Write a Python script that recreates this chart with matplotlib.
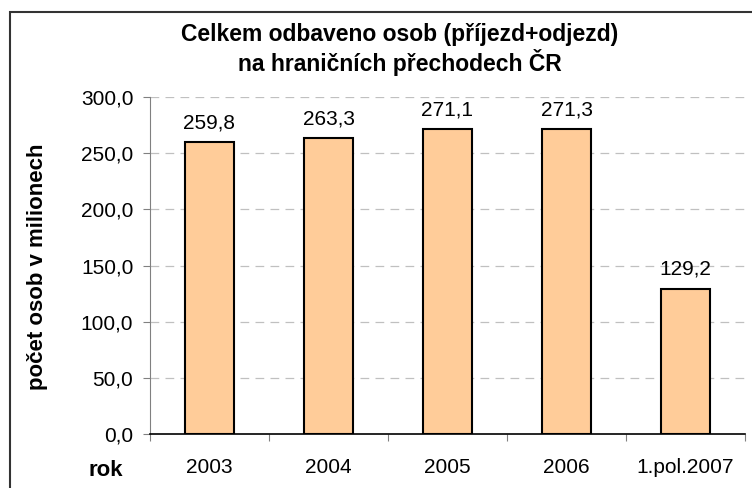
import matplotlib.pyplot as plt
from matplotlib.patches import Rectangle

# Data
categories = ['2003', '2004', '2005', '2006', '1.pol.2007']
values = [259.8, 263.3, 271.1, 271.3, 129.2]
y_ticks = [0, 50, 100, 150, 200, 250, 300]

plt.rcParams['font.family'] = ['Liberation Sans', 'DejaVu Sans']

fig = plt.figure(figsize=(7.52, 4.88), dpi=100)
ax = fig.add_axes([150 / 752, 1 - 434 / 488, 595 / 752, 337 / 488])

x = range(len(categories))
ax.bar(x, values, width=0.41, color='#ffcc99', edgecolor='black', linewidth=1.5, zorder=3)

for xi, v in zip(x, values):
    ax.annotate(f'{v:.1f}'.replace('.', ','), (xi, v), xytext=(0, 14), textcoords='offset points',
                ha='center', va='center', fontsize=15)

ax.set_xlim(-0.5, len(categories) - 0.5)
ax.set_ylim(0, 300)
ax.set_yticks(y_ticks)
ax.set_yticklabels([f'{t:.1f}'.replace('.', ',') for t in y_ticks], fontsize=15)
for t in y_ticks[1:]:
    ax.axhline(t, color='#c0c0c0', linestyle=(0, (7, 5)), linewidth=0.9, zorder=1)

# category labels between boundary tick marks
ax.set_xticks([i - 0.5 for i in range(len(categories) + 1)])
ax.set_xticklabels([])
ax.set_xticks(list(x), minor=True)
ax.set_xticklabels(categories, minor=True, fontsize=15)
ax.tick_params(axis='x', which='minor', length=0, pad=17)
ax.tick_params(axis='x', which='major', length=5, color='#808080', direction='out')
ax.tick_params(axis='y', length=5, color='#808080', pad=7)

for s in ['top', 'right']:
    ax.spines[s].set_visible(False)
ax.spines['left'].set_color('#808080')
ax.spines['bottom'].set_color('black')
ax.spines['bottom'].set_linewidth(1.2)

fig.text(400 / 752, 1 - 34 / 488, 'Celkem odbaveno osob (příjezd+odjezd)', ha='center', va='center',
         fontsize=16.5, fontweight='bold')
fig.text(400 / 752, 1 - 63 / 488, 'na hraničních přechodech ČR', ha='center', va='center',
         fontsize=16.5, fontweight='bold')
fig.text(38 / 752, 1 - 267 / 488, 'počet osob v milionech', rotation=90, ha='center', va='center',
         fontsize=16, fontweight='bold')
fig.text(106 / 752, 1 - 470 / 488, 'rok', ha='center', va='center', fontsize=16, fontweight='bold')

# outer chart frame (cut off at right and bottom)
fig.patches.append(Rectangle((10 / 752, -0.1), 1.2, 1 - 12 / 488 + 0.1, transform=fig.transFigure,
                             fill=False, edgecolor='#333333', linewidth=1.5))

plt.savefig('out.png', dpi=100)
